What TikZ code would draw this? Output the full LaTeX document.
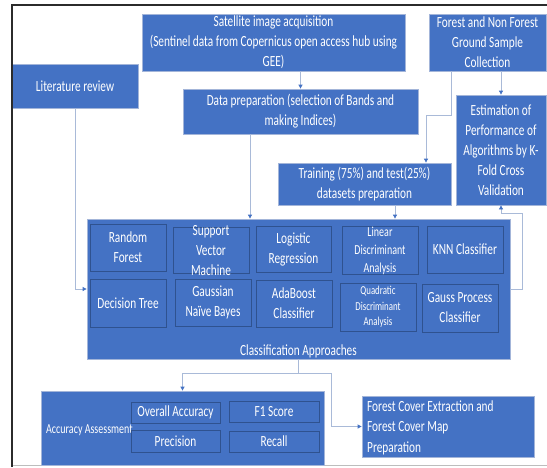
\documentclass[tikz,border=0pt]{standalone}
\usepackage{fontspec}
\setmainfont{Carlito}[FakeStretch=0.73]
\usetikzlibrary{arrows.meta}
\definecolor{boxblue}{HTML}{4472C4}
\definecolor{edgelight}{HTML}{A3B5D9}
\definecolor{edgedark}{HTML}{2F528F}
\definecolor{wire}{HTML}{A9BAD8}
\definecolor{tipblue}{HTML}{4472C4}
\definecolor{framedark}{HTML}{2B2B2B}
\definecolor{framelight}{HTML}{BDBDBD}

\tikzset{
  stage/.style={fill=boxblue, draw=edgelight, line width=0.8pt, text=white,
    inner sep=0pt, align=center, font=\fontsize{15.5}{20}\selectfont},
  cell/.style={fill=boxblue, draw=edgedark, line width=0.9pt, text=white,
    inner sep=0pt, align=center, minimum width=76pt, minimum height=47pt,
    font=\fontsize{15.5}{20}\selectfont},
  celltext/.style={text=white, inner sep=0pt, align=center},
  metric/.style={fill=boxblue, draw=edgedark, line width=0.9pt, text=white,
    inner sep=0pt, minimum height=21pt, font=\fontsize{15.5}{20}\selectfont},
  wirel/.style={draw=wire, line width=0.8pt},
  arr/.style={wirel, -{Triangle[length=4pt,width=4pt,color=tipblue]}},
}

\begin{document}
\begin{tikzpicture}[x=1pt,y=-1pt]
\useasboundingbox (0,0) rectangle (547,467);
\fill[white] (0,0) rectangle (547,467);
\draw[framelight, line width=1pt] (11.5,465.5) -- (547,465.5);

% upper workflow stages
\node[stage, minimum width=126pt, minimum height=44pt] (lit) at (75,86) {Literature review};
\node[stage, minimum width=263pt, minimum height=57pt] (sat) at (273.5,42.5)
  {Satellite image acquisition\\(Sentinel data from Copernicus open access hub using\\GEE)};
\node[stage, minimum width=117pt, minimum height=57pt] (fng) at (487.5,42.5)
  {Forest and Non Forest\\Ground Sample\\Collection};
\node[stage, minimum width=235pt, minimum height=45pt] (dprep) at (300.5,111.5)
  {Data preparation (selection of Bands and\\making Indices)};
\node[stage, minimum width=90pt, minimum height=110pt] (est) at (501,150)
  {Estimation of\\Performance of\\Algorithms by K-\\Fold Cross\\Validation};
\node[stage, minimum width=173pt, minimum height=42pt] (train) at (364.5,184)
  {Training (75\%) and test(25\%)\\datasets preparation};

% classification block
\node[stage, minimum width=423pt, minimum height=140pt] (cls) at (298.5,289) {};
\node[celltext, font=\fontsize{15.5}{20}\selectfont] (clslabel) at (298.5,351) {Classification Approaches};

\node[cell] (rf) at (128,247.5) {Random\\Forest};
\node[cell, minimum height=46pt] (svm) at (211,250) {};
\node[celltext, font=\fontsize{15.5}{20}\selectfont] (svmtext) at (211,251) {Support\\Vector\\Machine};
\node[cell, minimum width=75pt, minimum height=46pt] (lr) at (293.5,249) {Logistic\\Regression};
\node[cell, font=\fontsize{13.7}{18}\selectfont] (lda) at (380,250.5) {Linear\\Discriminant\\Analysis};
\node[cell] (knn) at (465,249.5) {KNN Classifier};
\node[cell, minimum height=48pt] (dt) at (128,303) {Decision Tree};
\node[cell] (gnb) at (213,302.5) {Gaussian\\Naïve Bayes};
\node[cell] (ada) at (294,303.5) {AdaBoost\\Classifier};
\node[cell, minimum height=48pt, font=\fontsize{12.1}{15.5}\selectfont] (qda) at (378,307) {Quadratic\\Discriminant\\Analysis};
\node[cell, minimum height=48pt] (gpc) at (460,308) {Gauss Process\\Classifier};

% accuracy assessment and final output
\node[stage, minimum width=283pt, minimum height=74pt] (acc) at (182.5,428) {};
\node[celltext, anchor=west, font=\fontsize{13.7}{16}\selectfont] (acclabel) at (46,430) {Accuracy Assessment};
\node[metric, minimum width=89pt] (oa) at (175.5,412.5) {Overall Accuracy};
\node[metric, minimum width=90pt] (f1) at (274,411.5) {F1 Score};
\node[metric, minimum width=89pt, minimum height=22pt] (prec) at (175.5,441) {Precision};
\node[metric, minimum width=90pt] (rec) at (274,441.5) {Recall};
\node[stage, minimum width=172pt, minimum height=61pt] (fc) at (448,426.5) {};
\node[celltext, anchor=west, align=left, font=\fontsize{15.5}{20.5}\selectfont] (fctext) at (367,427.5)
  {Forest Cover Extraction and\\Forest Cover Map\\Preparation};

% connectors
\draw[arr] (dprep.north |- sat.south) -- (dprep.north);
\draw[arr] (est.north |- fng.south) -- (est.north);
\coordinate (f0) at (451,71);
\coordinate (f1) at (426,115);
\draw[arr] (f0) |- (f1) -- (f1 |- train.north);
\coordinate (d0) at ([xshift=-50.5pt]dprep.south);
\draw[arr] (d0) -- (d0 |- cls.north);
\coordinate (t0) at ([xshift=30.5pt]train.south);
\draw[arr] (t0) -- (t0 |- cls.north);
\draw[arr] (lit.south) |- (cls.west);
\coordinate (e1) at (522,213);
\draw[arr] (cls.east) -| (e1) -| (est.south);
\coordinate (j) at (298.5,373);
\coordinate (j2) at (331,373);
\draw[arr] (cls.south) -- (j) -| (acc.north);
\draw[arr] (j) -- (j2) |- (fc.west);

% outer frame
\draw[framedark, line width=2pt] (11.5,467) -- (11.5,5) -- (547,5);
\end{tikzpicture}
\end{document}
